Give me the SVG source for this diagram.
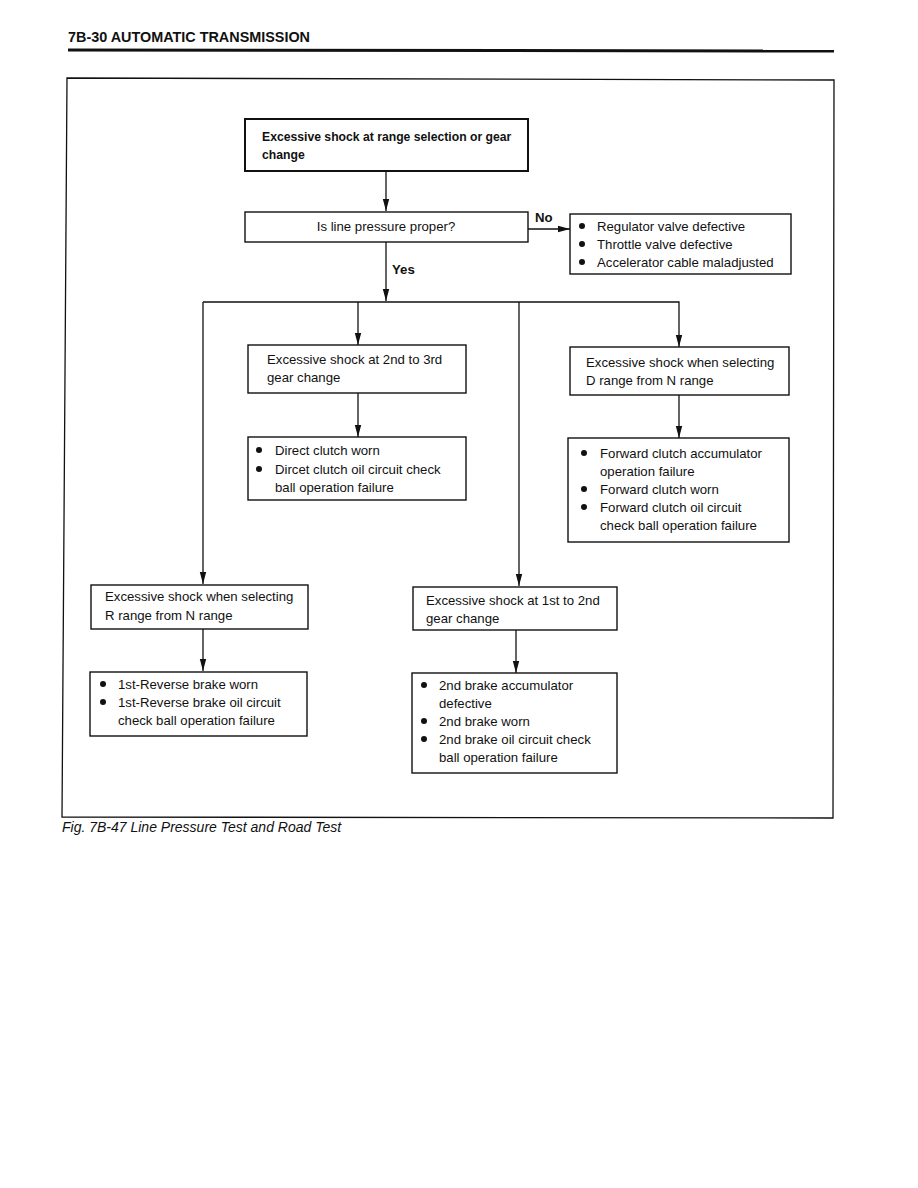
<svg xmlns="http://www.w3.org/2000/svg" width="918" height="1188" viewBox="0 0 918 1188">
<style>
.bx{fill:#fff;stroke:#111;stroke-width:1.4}
.t{font-family:"Liberation Sans",Arial,sans-serif;font-size:13.2px;fill:#111}
.b{font-weight:bold}
.ln{stroke:#111;stroke-width:1.3;fill:none}
</style>
<defs>
<marker id="ah" markerWidth="12" markerHeight="8" refX="12" refY="4" orient="auto" markerUnits="userSpaceOnUse" viewBox="0 0 12 8">
<path d="M0,0.8 L12,4 L0,7.2 Z" fill="#111"/>
</marker>
</defs>
<rect width="918" height="1188" fill="#fff"/>
<g id="header">
<text x="68" y="42" class="t b" style="font-size:14.4px">7B-30  AUTOMATIC TRANSMISSION</text>
<line x1="68" y1="50" x2="834" y2="51" stroke="#111" stroke-width="3"/>
</g>
<g id="frame">
<path d="M67,78 L834,80 L833,818 L62,817 Z" class="ln"/>
</g>
<g id="connectors">
<line x1="386" y1="171" x2="386" y2="211" class="ln" marker-end="url(#ah)"/>
<line x1="528" y1="229" x2="570" y2="229" class="ln" marker-end="url(#ah)"/>
<line x1="386" y1="242" x2="386" y2="301" class="ln" marker-end="url(#ah)"/>
<polyline points="203,302 679,302 679,347" class="ln" marker-end="url(#ah)"/>
<line x1="203" y1="302" x2="203" y2="584" class="ln" marker-end="url(#ah)"/>
<line x1="358" y1="302" x2="358" y2="345" class="ln" marker-end="url(#ah)"/>
<line x1="519" y1="302" x2="519" y2="586" class="ln" marker-end="url(#ah)"/>
<line x1="358" y1="393" x2="358" y2="437" class="ln" marker-end="url(#ah)"/>
<line x1="679" y1="395" x2="679" y2="438" class="ln" marker-end="url(#ah)"/>
<line x1="203" y1="629" x2="203" y2="671" class="ln" marker-end="url(#ah)"/>
<line x1="516" y1="630" x2="516" y2="673" class="ln" marker-end="url(#ah)"/>
<text x="535" y="222" class="t b">No</text>
<text x="392" y="274" class="t b">Yes</text>
</g>
<g id="start">
<rect x="245" y="119" width="283" height="52" class="bx" style="stroke-width:2"/>
<text x="262" y="141" class="t b" style="font-size:12.2px">Excessive shock at range selection or gear</text>
<text x="262" y="159" class="t b" style="font-size:12.2px">change</text>
</g>
<g id="linepressure">
<rect x="245" y="212" width="283" height="30" class="bx"/>
<text x="386" y="231" class="t" text-anchor="middle">Is line pressure proper?</text>
</g>
<g id="nocauses">
<rect x="570" y="214" width="221" height="60" class="bx"/>
<circle cx="582" cy="226" r="3" fill="#111"/>
<circle cx="582" cy="244" r="3" fill="#111"/>
<circle cx="582" cy="262" r="3" fill="#111"/>
<text x="597" y="231" class="t">Regulator valve defective</text>
<text x="597" y="249" class="t">Throttle valve defective</text>
<text x="597" y="267" class="t">Accelerator cable maladjusted</text>
</g>
<g id="shock23">
<rect x="248" y="345" width="218" height="48" class="bx"/>
<text x="267" y="364" class="t">Excessive shock at 2nd to 3rd</text>
<text x="267" y="382" class="t">gear change</text>
</g>
<g id="direct">
<rect x="248" y="437" width="218" height="63" class="bx"/>
<circle cx="259" cy="450" r="3" fill="#111"/>
<circle cx="259" cy="469" r="3" fill="#111"/>
<text x="275" y="455" class="t">Direct clutch worn</text>
<text x="275" y="474" class="t">Dircet clutch oil circuit check</text>
<text x="275" y="492" class="t">ball operation failure</text>
</g>
<g id="shockD">
<rect x="570" y="347" width="219" height="48" class="bx"/>
<text x="586" y="367" class="t">Excessive shock when selecting</text>
<text x="586" y="385" class="t">D range from N range</text>
</g>
<g id="forward">
<rect x="568" y="438" width="221" height="104" class="bx"/>
<circle cx="584" cy="453" r="3" fill="#111"/>
<circle cx="584" cy="489" r="3" fill="#111"/>
<circle cx="584" cy="507" r="3" fill="#111"/>
<text x="600" y="458" class="t">Forward clutch accumulator</text>
<text x="600" y="476" class="t">operation failure</text>
<text x="600" y="494" class="t">Forward clutch worn</text>
<text x="600" y="512" class="t">Forward clutch oil circuit</text>
<text x="600" y="530" class="t">check ball operation failure</text>
</g>
<g id="shockR">
<rect x="91" y="585" width="217" height="44" class="bx"/>
<text x="105" y="601" class="t">Excessive shock when selecting</text>
<text x="105" y="620" class="t">R range from N range</text>
</g>
<g id="reverse">
<rect x="90" y="672" width="217" height="64" class="bx"/>
<circle cx="103" cy="684" r="3" fill="#111"/>
<circle cx="103" cy="702" r="3" fill="#111"/>
<text x="118" y="689" class="t">1st-Reverse brake worn</text>
<text x="118" y="707" class="t">1st-Reverse brake oil circuit</text>
<text x="118" y="725" class="t">check ball operation failure</text>
</g>
<g id="shock12">
<rect x="413" y="587" width="204" height="43" class="bx"/>
<text x="426" y="605" class="t">Excessive shock at 1st to 2nd</text>
<text x="426" y="623" class="t">gear change</text>
</g>
<g id="brake2">
<rect x="412" y="673" width="205" height="100" class="bx"/>
<circle cx="424" cy="685" r="3" fill="#111"/>
<circle cx="424" cy="721" r="3" fill="#111"/>
<circle cx="424" cy="739" r="3" fill="#111"/>
<text x="439" y="690" class="t">2nd brake accumulator</text>
<text x="439" y="708" class="t">defective</text>
<text x="439" y="726" class="t">2nd brake worn</text>
<text x="439" y="744" class="t">2nd brake oil circuit check</text>
<text x="439" y="762" class="t">ball operation failure</text>
</g>
<g id="caption">
<text x="62" y="832" class="t" style="font-style:italic;font-size:14px">Fig. 7B-47  Line Pressure Test and Road Test</text>
</g>
</svg>
